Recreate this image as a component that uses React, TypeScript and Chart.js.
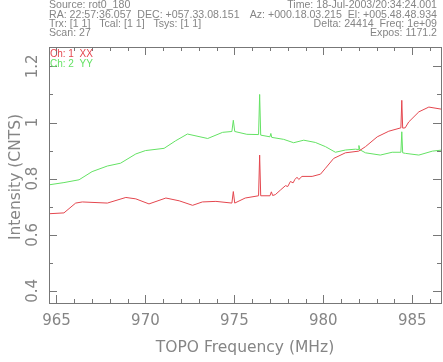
import React, { useEffect, useRef } from "react";
import { Chart, registerables } from "chart.js";

Chart.register(...registerables);

const greenFreq = [964.58, 965.42, 966.27, 967.0, 967.86, 968.6, 969.46, 970.0, 971.05, 971.7, 972.36, 973.5, 974.34, 974.86, 974.94, 975.02, 975.7, 976.36, 976.42, 976.48, 977.0, 977.05, 977.1, 977.77, 978.33, 978.9, 979.55, 980.12, 980.68, 981.24, 981.8, 981.95, 982.0, 982.05, 982.37, 983.2, 983.87, 984.36, 984.41, 984.46, 984.62, 985.37, 986.13, 986.69];
const greenVal = [0.778, 0.786, 0.796, 0.825, 0.845, 0.855, 0.888, 0.9, 0.908, 0.935, 0.959, 0.943, 0.965, 0.968, 1.008, 0.968, 0.958, 0.957, 1.1, 0.955, 0.949, 0.961, 0.947, 0.94, 0.928, 0.937, 0.929, 0.914, 0.894, 0.902, 0.905, 0.904, 0.918, 0.903, 0.892, 0.884, 0.894, 0.894, 0.967, 0.892, 0.89, 0.884, 0.898, 0.902];

const redFreq = [964.58, 965.42, 966.08, 966.45, 967.86, 968.9, 969.46, 970.2, 971.15, 971.9, 972.65, 973.2, 973.96, 974.86, 974.94, 975.02, 975.61, 976.36, 976.42, 976.48, 977.0, 977.08, 977.15, 977.3, 977.6, 977.87, 978.0, 978.15, 978.3, 978.4, 978.52, 978.62, 978.8, 979.37, 979.84, 980.12, 980.58, 981.24, 981.99, 982.37, 983.03, 983.68, 984.36, 984.41, 984.46, 984.6, 984.8, 985.37, 985.93, 986.69];
const redVal = [0.675, 0.678, 0.713, 0.717, 0.713, 0.733, 0.728, 0.71, 0.731, 0.721, 0.705, 0.717, 0.719, 0.713, 0.754, 0.713, 0.731, 0.739, 0.884, 0.739, 0.739, 0.753, 0.74, 0.743, 0.76, 0.775, 0.772, 0.79, 0.785, 0.797, 0.805, 0.797, 0.808, 0.808, 0.816, 0.837, 0.872, 0.892, 0.898, 0.914, 0.949, 0.969, 0.981, 1.079, 0.98, 0.981, 1.002, 1.038, 1.055, 1.047];

const xTickLabels = [965, 970, 975, 980, 985];
const yTickLabels = [0.4, 0.6, 0.8, 1, 1.2];
const xMinorStep = 1;
const yMinorStep = 0.1;
const xRange = [964.58, 986.67];
const yRange = [0.357, 1.269];

const headerLeft = [
  "Source: rot0_180",
  "RA: 22:57:36.057  DEC: +057.33.08.151",
  "Trx: [1 1]   Tcal: [1 1]   Tsys: [1 1]",
  "Scan: 27",
];
const headerRight = [
  "Time: 18-Jul-2003/20:34:24.001",
  "Az: +000.18.03.215  El: +005.48.48.934",
  "Delta: 24414  Freq: 1e+09",
  "Expos: 1171.2",
];
const legendLabels = ["Ch: 1  XX", "Ch: 2  YY"];
const xTitle = "TOPO Frequency (MHz)";
const yTitle = "Intensity (CNTS)";

const RED = "rgb(228,70,78)";
const GREEN = "rgb(100,226,100)";
const GREY = "#777777";
const TEXT = "#858585";

const decor = {
  id: "decor",
  afterDraw(chart: any) {
    const ctx = chart.ctx;
    const a = chart.chartArea;
    const xs = chart.scales.x;
    const ys = chart.scales.y;
    ctx.save();
    ctx.strokeStyle = GREY;
    ctx.lineWidth = 1;
    ctx.strokeRect(Math.round(a.left) + 0.5, Math.round(a.top) + 0.5, Math.round(a.right - a.left) - 1, Math.round(a.bottom - a.top));
    ctx.beginPath();
    const x0 = Math.ceil(xRange[0] / xMinorStep) * xMinorStep;
    for (let v = x0; v <= xRange[1] + 1e-9; v += xMinorStep) {
      const px = Math.round(xs.getPixelForValue(v)) + 0.5;
      const major = xTickLabels.some((t) => Math.abs(t - v) < 1e-6);
      const len = major ? 8 : 4;
      ctx.moveTo(px, a.bottom);
      ctx.lineTo(px, a.bottom - len);
      ctx.moveTo(px, a.top);
      ctx.lineTo(px, a.top + len);
    }
    const y0 = Math.ceil(yRange[0] / yMinorStep - 1e-9) * yMinorStep;
    for (let k = 0; ; k++) {
      const v = y0 + k * yMinorStep;
      if (v > yRange[1]) break;
      const py = Math.round(ys.getPixelForValue(v)) + 0.5;
      const major = yTickLabels.some((t) => Math.abs(t - v) < 1e-6);
      const len = major ? 8 : 4;
      ctx.moveTo(a.left, py);
      ctx.lineTo(a.left + len, py);
      ctx.moveTo(a.right - 1, py);
      ctx.lineTo(a.right - 1 - len, py);
    }
    ctx.stroke();

    ctx.fillStyle = TEXT;
    ctx.font = "15px 'DejaVu Sans'";
    ctx.textAlign = "center";
    ctx.textBaseline = "middle";
    xTickLabels.forEach((t) => {
      ctx.fillText(String(t), xs.getPixelForValue(t), 321);
    });
    yTickLabels.forEach((t) => {
      ctx.save();
      ctx.translate(33, ys.getPixelForValue(t));
      ctx.rotate(-Math.PI / 2);
      ctx.fillText(String(t), 0, 0);
      ctx.restore();
    });
    ctx.font = "15.5px 'DejaVu Sans'";
    ctx.fillText(xTitle, 245, 348);
    ctx.save();
    ctx.translate(16, 177);
    ctx.rotate(-Math.PI / 2);
    ctx.fillText(yTitle, 0, 0);
    ctx.restore();

    ctx.font = "10.6px 'Liberation Sans'";
    ctx.textBaseline = "middle";
    const hy = [5, 15, 24.5, 33];
    ctx.textAlign = "left";
    headerLeft.forEach((s, i) => ctx.fillText(s, 49, hy[i]));
    ctx.textAlign = "right";
    headerRight.forEach((s, i) => ctx.fillText(s, 437, hy[i]));

    ctx.textAlign = "left";
    ctx.font = "10px 'Liberation Sans'";
    ctx.fillStyle = RED;
    ctx.fillText(legendLabels[0], 50, 54);
    ctx.fillStyle = GREEN;
    ctx.fillText(legendLabels[1], 50, 64);
    ctx.restore();
  },
};

export default function App() {
  const ref = useRef<HTMLCanvasElement>(null);
  useEffect(() => {
    document.body.style.margin = "0";
    const chart = new Chart(ref.current as HTMLCanvasElement, {
      type: "line",
      data: {
        datasets: [
          {
            label: "Ch: 1 XX",
            data: redFreq.map((f, i) => ({ x: f, y: redVal[i] })),
            borderColor: RED,
            borderWidth: 1,
            pointRadius: 0,
            fill: false,
            tension: 0,
          },
          {
            label: "Ch: 2 YY",
            data: greenFreq.map((f, i) => ({ x: f, y: greenVal[i] })),
            borderColor: GREEN,
            borderWidth: 1,
            pointRadius: 0,
            fill: false,
            tension: 0,
          },
        ],
      },
      options: {
        animation: false,
        responsive: true,
        maintainAspectRatio: false,
        devicePixelRatio: 1,
        layout: { padding: { top: 47, right: 1, left: 0, bottom: 0 } },
        plugins: { legend: { display: false }, tooltip: { enabled: false } },
        scales: {
          x: {
            type: "linear",
            min: xRange[0],
            max: xRange[1],
            ticks: { display: false },
            grid: { display: false },
            border: { display: false },
            afterFit: (s: any) => {
              s.height = 59;
            },
          },
          y: {
            type: "linear",
            min: yRange[0],
            max: yRange[1],
            ticks: { display: false },
            grid: { display: false },
            border: { display: false },
            afterFit: (s: any) => {
              s.width = 49;
            },
          },
        },
      },
      plugins: [decor],
    });
    return () => chart.destroy();
  }, []);
  return (
    <div style={{ position: "absolute", left: 0, top: 0, width: 443, height: 362 }}>
      <canvas ref={ref} />
    </div>
  );
}
